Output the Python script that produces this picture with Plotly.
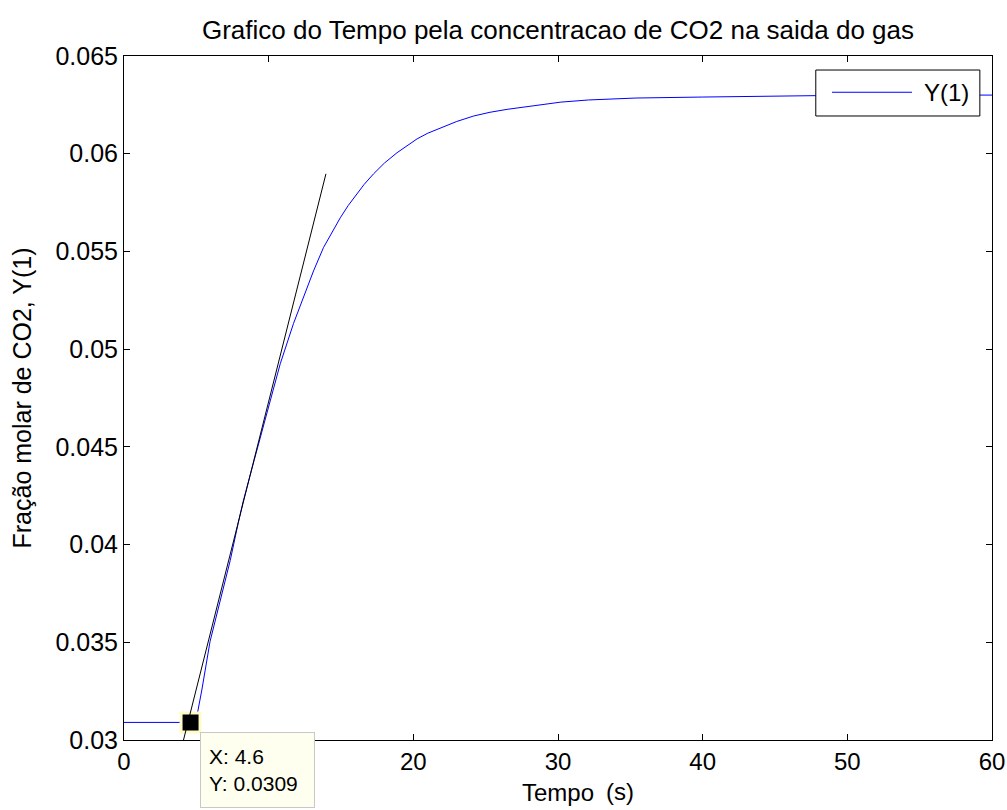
import plotly.graph_objects as go

# Response of CO2 mole fraction at the gas outlet over time
tempo = [0, 4.6, 4.95, 5.12, 5.38, 5.95, 6.64, 7.34, 7.91, 8.24, 9.0, 9.64,
         10.80, 11.72, 12.41, 13.10, 13.79, 14.48, 14.95, 15.5, 16.10, 16.6,
         17.25, 18.0, 18.87, 19.5, 20.26, 21.0, 21.87, 23.0, 24.17, 25.3,
         26.48, 28.33, 30.2, 32.1, 35.4, 40.0, 44.7, 47.7, 55.0, 60.0]
y1 = [0.0309, 0.0309, 0.0309, 0.03154, 0.03256, 0.03505, 0.03712, 0.03918,
      0.04115, 0.04222, 0.04432, 0.04603, 0.04925, 0.05132, 0.05269, 0.05400,
      0.05520, 0.05615, 0.05672, 0.05735, 0.05795, 0.05843, 0.05897, 0.05952,
      0.06005, 0.06038, 0.06076, 0.06105, 0.06130, 0.06165, 0.06193, 0.06212,
      0.06227, 0.06246, 0.06264, 0.06275, 0.06285, 0.06290, 0.06296, 0.06297,
      0.06300, 0.06300]

# Tangent line through the inflection region
tangente_x = [3.99, 13.96]
tangente_y = [0.02964, 0.05897]

# Data tip
tip_x = 4.6
tip_y = 0.0309

x_ticks = [0, 10, 20, 30, 40, 50, 60]
x_ticktext = ["0", "", "20", "30", "40", "50", "60"]  # "10" sits under the data tip
y_ticks = [0.03, 0.035, 0.04, 0.045, 0.05, 0.055, 0.06, 0.065]

FONT = "Liberation Sans, Arial, sans-serif"

fig = go.Figure()

fig.add_trace(go.Scatter(
    x=tempo, y=y1, mode="lines", name="Y(1)",
    line=dict(color="#0000FF", width=1), showlegend=False,
))

fig.add_shape(type="line", xref="x", yref="y",
              x0=tangente_x[0], y0=tangente_y[0],
              x1=tangente_x[1], y1=tangente_y[1],
              line=dict(color="black", width=1), layer="above")

fig.add_trace(go.Scatter(
    x=[tip_x], y=[tip_y], mode="markers", showlegend=False, cliponaxis=False,
    marker=dict(symbol="square", size=19, color="black",
                line=dict(color="#FFFBC8", width=3)),
))

fig.add_annotation(
    x=tip_x, y=tip_y, xref="x", yref="y", showarrow=False,
    xanchor="left", yanchor="top", xshift=9, yshift=-10,
    text=f"X: {tip_x:g}<br>Y: {tip_y:g}", align="left",
    width=97, height=58, borderpad=8, borderwidth=1,
    bordercolor="#C8C8C8", bgcolor="#FFFFF0",
    font=dict(family=FONT, size=21, color="black"),
)

# Legend box drawn by hand so the line sample has the full width
fig.add_shape(type="rect", xref="paper", yref="paper",
              x0=0.797, x1=0.986, y0=0.9123, y1=0.9795,
              line=dict(color="black", width=1), fillcolor="white", layer="above")
fig.add_shape(type="line", xref="paper", yref="paper",
              x0=0.8157, x1=0.9078, y0=0.947, y1=0.947,
              line=dict(color="#0000FF", width=1), layer="above")
fig.add_annotation(x=0.919, y=0.947, xref="paper", yref="paper",
                   xanchor="left", yanchor="middle", showarrow=False,
                   text="Y(1)", font=dict(family=FONT, size=24, color="black"))

# Unit placed next to the x axis label
fig.add_annotation(x=0.5525, y=0, xref="paper", yref="paper",
                   xanchor="left", yanchor="top", yshift=-36, showarrow=False,
                   text="(s)", font=dict(family=FONT, size=24, color="black"))

axis_common = dict(
    showline=True, linecolor="black", linewidth=1, mirror="ticks",
    ticks="inside", ticklen=6, tickcolor="black", showgrid=False,
    zeroline=False,
)

fig.update_xaxes(range=[0, 60], tickvals=x_ticks, ticktext=x_ticktext,
                 tickfont=dict(family=FONT, size=24, color="black"),
                 title=dict(text="Tempo", standoff=10,
                            font=dict(family=FONT, size=24, color="black")),
                 **axis_common)
fig.update_yaxes(range=[0.03, 0.065], tickvals=y_ticks,
                 tickfont=dict(family=FONT, size=25, color="black"),
                 title=dict(text="Fração molar de CO2, Y(1)", standoff=16,
                            font=dict(family=FONT, size=25, color="black")),
                 **axis_common)

fig.update_layout(
    width=1007, height=810,
    margin=dict(l=124, r=15, t=56, b=70, autoexpand=False),
    paper_bgcolor="white", plot_bgcolor="white",
    title=dict(text="Grafico do Tempo pela concentracao de CO2 na saida do gas",
               x=0.5, xref="paper", xanchor="center",
               y=1 - 30 / 810, yref="container", yanchor="middle",
               font=dict(family=FONT, size=26, color="black")),
    showlegend=False,
)

fig.write_html("out.html")
